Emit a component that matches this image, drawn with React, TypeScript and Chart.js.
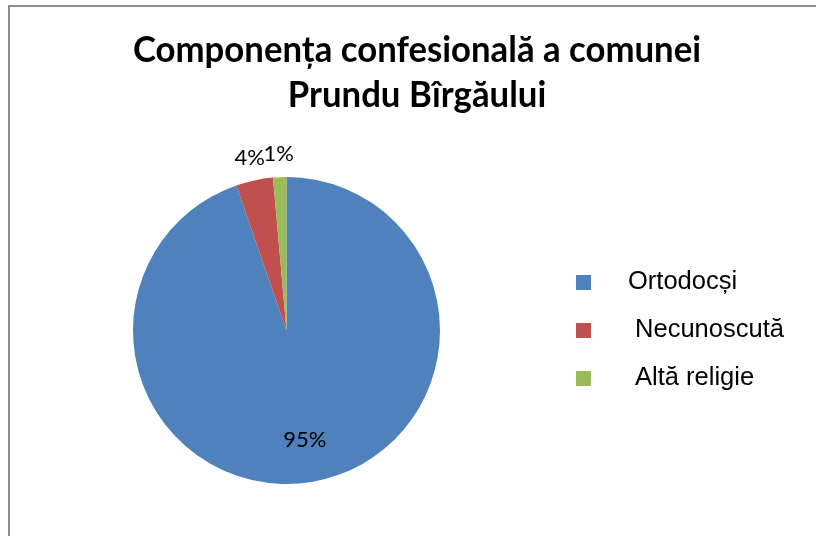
import React, { useEffect, useRef } from "react";
import { Chart, registerables } from "chart.js";

Chart.register(...registerables);

const TITLE_LINES = ["Componența confesională a comunei", "Prundu Bîrgăului"];
const CATEGORIES = ["Ortodocși", " Necunoscută", " Altă religie"];
const VALUES = [94.7, 3.9, 1.4];
const COLORS = ["#4F81BD", "#C0504D", "#9BBB59"];

const TITLE_FONT = "bold 36px Lato";
const TITLE_CONDENSE = 0.965;
const LABEL_FONT = "22px Lato";
const LABEL_CONDENSE = 1;
const LEGEND_FONT = "25.5px 'Liberation Sans'";

function condensedText(ctx: CanvasRenderingContext2D, text: string, x: number, y: number, k: number) {
  ctx.save();
  ctx.translate(x, y);
  ctx.scale(k, 1);
  ctx.fillText(text, 0, 0);
  ctx.restore();
}

const decorPlugin = {
  id: "decor",
  beforeDraw(chart: any) {
    const ctx: CanvasRenderingContext2D = chart.ctx;
    ctx.save();
    ctx.fillStyle = "#ffffff";
    ctx.fillRect(0, 0, chart.width, chart.height);
    ctx.strokeStyle = "#8c8c8c";
    ctx.lineWidth = 2;
    ctx.strokeRect(9, 6, chart.width + 40, chart.height + 40);
    ctx.restore();
  },
  afterDraw(chart: any) {
    const ctx: CanvasRenderingContext2D = chart.ctx;
    ctx.save();
    ctx.fillStyle = "#000000";
    // title
    ctx.font = TITLE_FONT;
    ctx.textAlign = "center";
    ctx.textBaseline = "alphabetic";
    TITLE_LINES.forEach((line, i) => {
      condensedText(ctx, line, 417, 62 + i * 45, TITLE_CONDENSE);
    });

    // data labels
    const meta = chart.getDatasetMeta(0);
    const data: number[] = chart.data.datasets[0].data;
    const total = data.reduce((a, b) => a + b, 0);
    ctx.font = LABEL_FONT;
    ctx.textAlign = "center";
    ctx.textBaseline = "middle";
    meta.data.forEach((arc: any, i: number) => {
      const p = arc.getProps(["x", "y", "startAngle", "endAngle", "outerRadius"], true);
      const mid = (p.startAngle + p.endAngle) / 2;
      const pct = data[i] / total;
      const r = pct > 0.1 ? p.outerRadius * 0.72 : p.outerRadius + 23;
      const lx = p.x + Math.cos(mid) * r;
      const ly = p.y + Math.sin(mid) * r;
      condensedText(ctx, Math.round(pct * 100) + "%", lx, ly, LABEL_CONDENSE);
    });

    // legend
    ctx.font = LEGEND_FONT;
    ctx.textAlign = "left";
    ctx.textBaseline = "middle";
    const labels: string[] = chart.data.labels;
    const colors: string[] = chart.data.datasets[0].backgroundColor;
    labels.forEach((lab, i) => {
      const top = 275 + i * 48;
      ctx.fillStyle = colors[i];
      ctx.fillRect(576, top, 15, 15);
      ctx.fillStyle = "#000000";
      ctx.fillText(lab, 628, top + 7);
    });
    ctx.restore();
  },
};

export default function App() {
  const ref = useRef<HTMLCanvasElement | null>(null);
  useEffect(() => {
    if (!ref.current) return;
    const chart = new Chart(ref.current, {
      type: "pie",
      data: {
        labels: CATEGORIES,
        datasets: [
          {
            data: VALUES,
            backgroundColor: COLORS,
            borderWidth: 0,
          },
        ],
      },
      options: {
        responsive: false,
        animation: false,
        layout: { padding: { left: 133, top: 177, right: 376, bottom: 52 } },
        plugins: {
          legend: { display: false },
          title: { display: false },
          tooltip: { enabled: false },
        },
      },
      plugins: [decorPlugin],
    });
    document.fonts && document.fonts.ready.then(() => chart.draw());
    return () => chart.destroy();
  }, []);
  return (
    <div style={{ position: "fixed", left: 0, top: 0, width: 816, height: 536, overflow: "hidden", background: "#fff" }}>
      <canvas ref={ref} width={816} height={536} style={{ display: "block", width: 816, height: 536 }} />
    </div>
  );
}
